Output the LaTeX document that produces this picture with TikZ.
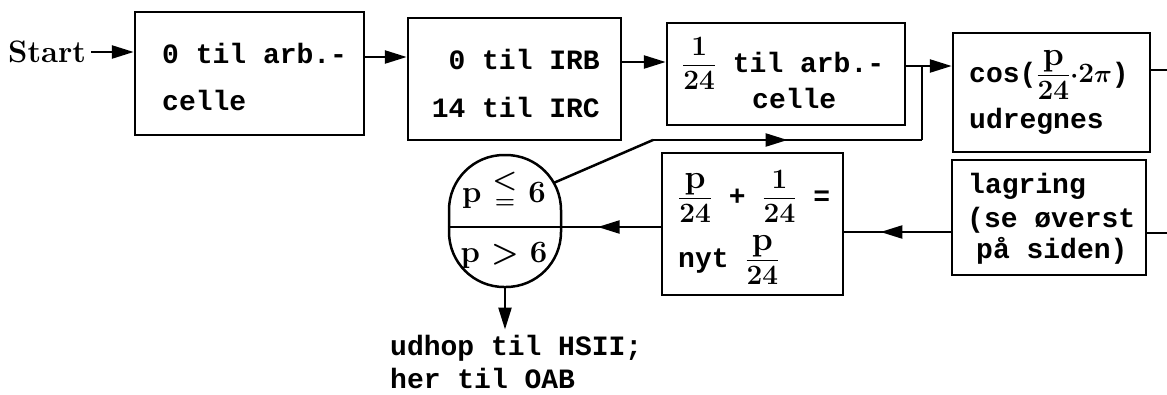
\documentclass[tikz,border=0pt]{standalone}
\usepackage{amsmath}
\usepackage{graphicx}
\usepackage{fontspec}
\setmonofont{Liberation Mono}
\usetikzlibrary{arrows.meta,decorations.markings}
\newcommand\tw{\fontsize{28}{34}\selectfont\ttfamily\bfseries}
\newcommand\rb[1]{\text{\rmfamily\bfseries #1}}
\newcommand\pp{\scalebox{1.2}{\rb{p}}}
\newcommand\fr[2]{$\dfrac{\rb{#1}}{\rb{#2}}$}
\newcommand\myleq{\ooalign{\hfil\raisebox{14pt}{\scalebox{0.9}{\rb{<}}}\hfil\cr\hfil\raisebox{-6pt}{\scalebox{0.75}{\rb{=}}}\hfil\cr}}
\tikzset{
  ln/.style={line width=2.5pt},
  box/.style={draw, line width=2.5pt, inner sep=0pt},
  txt/.style={font=\tw, inner sep=0pt, anchor=base west},
  txtr/.style={font=\tw, inner sep=0pt, anchor=base east},
  dtxt/.style={font=\fontsize{31}{34}\selectfont\rmfamily\bfseries, inner sep=0pt, anchor=base},
  arr/.style={line width=2.5pt, -{Triangle[length=22pt,width=13pt]}},
  midarr/.style={line width=2.5pt, postaction=decorate,
    decoration={markings, mark=at position #1 with {\arrow{Triangle[length=22pt,width=13pt]}}}},
}
\begin{document}
\begin{tikzpicture}[x=1pt,y=-1pt]
\useasboundingbox (0,0) rectangle (1167,394);
% boxes
\node[box, minimum width=229pt, minimum height=123pt] (b1) at (249.5,73.5) {};
\node[box, minimum width=213pt, minimum height=122pt] (b2) at (514.5,79) {};
\node[box, minimum width=238pt, minimum height=102pt] (b3) at (786,74) {};
\node[box, minimum width=197pt, minimum height=119pt] (b4) at (1051.5,92.5) {};
\node[box, minimum width=194pt, minimum height=115pt] (b5) at (1049,217.5) {};
\node[box, minimum width=181pt, minimum height=142pt] (b6) at (752.5,224) {};
\node[draw, ln, rounded corners=55pt, minimum width=112pt, minimum height=132pt, inner sep=0pt] (dec) at (505,221) {};
% texts
\node[font=\fontsize{31}{34}\selectfont\rmfamily\bfseries, anchor=base west, inner sep=0pt] (start) at (8,62) {Start};
\node[txt] (t11) at (162,63) {0 til arb.-};
\node[txt] (t12) at (162,110) {celle};
\node[txtr] (t21) at (600,69) {0 til IRB};
\node[txtr] (t22) at (600,117) {14 til IRC};
\node[txt] (t31) at (682,72) {\fr{1}{24} til arb.-};
\node[txt] (t32) at (752,108) {celle};
\node[txt] (t41) at (969,82) {cos(\fr{\pp}{24}$\boldsymbol{\cdot}$\rb{2}$\boldsymbol{\pi}$)};
\node[txt] (t42) at (969,128) {udregnes};
\node[txt] (t51) at (968,193) {lagring};
\node[txt] (t52) at (967,227) {(se øverst};
\node[txt] (t53) at (976,258) {på siden)};
\node[txt] (t61) at (678,205) {\fr{\pp}{24} + \fr{1}{24} =};
\node[txt] (t62) at (678,267) {nyt \fr{\pp}{24}};
\node[dtxt] (dtop) at (504,202) {p\hspace{11pt}\myleq\hspace{11pt}6};
\node[dtxt] (dbot) at (504,262) {p\hspace{11pt}>\hspace{11pt}6};
\node[txt] (x1) at (390,355) {udhop til HSII;};
\node[txt] (x2) at (390,388) {her til OAB};
% helper coordinates
\coordinate (r0) at (0,52);
\coordinate (r1) at (0,57);
\coordinate (r2) at (0,62);
\coordinate (jn) at (922,66);
\coordinate (k1) at (653,140);
\coordinate (k2) at (922,140);
\coordinate (m) at (505,227);
\coordinate (r5) at (0,232);
\coordinate (e1) at (1167,70);
\coordinate (e2) at (1167,233);
% connectors
\draw[arr, shorten <=5pt] (start.east |- r0) -- (b1.west |- r0);
\draw[arr] (b1.east |- r1) -- (b2.west |- r1);
\draw[arr] (b2.east |- r2) -- (b3.west |- r2);
\draw[arr] (b3.east |- jn) -- (b4.west |- jn);
\draw[ln] (b4.east |- e1) -- (e1);
\draw[ln] (b5.east |- e2) -- (e2);
\draw[midarr=0.66] (b5.west |- r5) -- (b6.east |- r5);
\draw[midarr=0.64] (b6.west |- m) -- (dec.east |- m);
\draw[ln] (dec.west |- m) -- (dec.east |- m);
\draw[ln] ([xshift=48.5pt,yshift=38pt]dec.center) -- (k1);
\draw[midarr=0.5] (k1) -- (k2);
\draw[ln] (k2) -- (jn);
\draw[arr, shorten >=5pt] (dec.south) -- (dec.south |- x1.north);
\end{tikzpicture}
\end{document}
